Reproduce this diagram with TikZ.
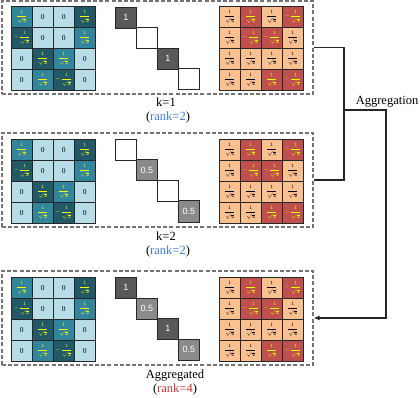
\documentclass[tikz,border=0pt]{standalone}
\usepackage{amsmath}
\usepackage{fontspec}
\setmainfont{Liberation Serif}
\setsansfont{Liberation Sans}
\usetikzlibrary{arrows.meta}
\definecolor{lb}{HTML}{B7DEE8}
\definecolor{tm}{HTML}{31859C}
\definecolor{td}{HTML}{215968}
\definecolor{pc}{HTML}{FAC090}
\definecolor{rd}{HTML}{C0504D}
\definecolor{dg}{HTML}{595959}
\definecolor{mg}{HTML}{8A8A8A}
\definecolor{rkb}{HTML}{3B7DD8}
\definecolor{rkr}{HTML}{D0312D}
\definecolor{yl}{HTML}{FFFF00}
\newcommand\Lmatrix[3]{%
  \foreach \v [count=\i from 0] in {a,z,z,b,c,z,z,a,z,b,a,z,z,a,c,z}{
    \pgfmathtruncatemacro\rr{\i/4}
    \pgfmathtruncatemacro\cc{mod(\i,4)}
    \node (#1-\rr\cc) at ({#2+21*\cc},{#3+21*\rr}) [L\v];
  }}
\newcommand\Rmatrix[3]{%
  \foreach \v [count=\i from 0] in {p,r,p,n,p,n,n,p,p,p,p,p,p,p,r,n}{
    \pgfmathtruncatemacro\rr{\i/4}
    \pgfmathtruncatemacro\cc{mod(\i,4)}
    \node (#1-\rr\cc) at ({#2+21*\cc},{#3+21*\rr}) [R\v];
  }}
\newcommand\Dmatrix[4]{%
  \foreach \v [count=\i from 0] in {#4}{
    \node (#1-\i) at ({#2+21*\i},{#3+20.5*\i}) [D\v];
  }}
\begin{document}
\begin{tikzpicture}[x=1pt,y=-1pt,
  cell/.style={draw=black!85, line width=0.6pt, minimum size=21pt, inner sep=0pt,
    anchor=north west, font=\fontsize{5.5}{5.5}\selectfont},
  Lz/.style={cell, fill=lb, node contents={\fontsize{7.5}{7.5}\selectfont 0}},
  La/.style={cell, fill=tm, text=yl, node contents={$\dfrac{1}{\sqrt{2}}$}},
  Lb/.style={cell, fill=td, text=yl, node contents={$\dfrac{1}{\sqrt{2}}$}},
  Lc/.style={cell, fill=td, text=yl, node contents={$-\dfrac{1}{\sqrt{2}}$}},
  Rp/.style={cell, fill=pc, text=black, node contents={$\dfrac{1}{\sqrt{4}}$}},
  Rr/.style={cell, fill=rd, text=yl, node contents={$\dfrac{1}{\sqrt{4}}$}},
  Rn/.style={cell, fill=rd, text=yl, node contents={$-\dfrac{1}{\sqrt{4}}$}},
  dcell/.style={draw=black!85, line width=0.6pt, minimum size=21pt, inner sep=0pt,
    anchor=north west, font=\sffamily\fontsize{9}{9}\selectfont, text=white},
  DA/.style={dcell, fill=dg, node contents={1}},
  DG/.style={dcell, fill=mg, node contents={0.5}},
  DW/.style={dcell, fill=white, node contents={}},
  panel/.style={draw=black!55, dashed, dash pattern=on 4pt off 2.2pt, line width=1.1pt,
    inner sep=0pt, minimum width=311pt},
  lab/.style={font=\fontsize{12.5}{13}\selectfont, inner sep=0pt, anchor=base},
  conn/.style={draw=black!85, line width=1.2pt}
]
\useasboundingbox (0,0) rectangle (420,398);
\node[panel, minimum height=93pt] (P1) at (157.5,47.5) {};
\node[panel, minimum height=94pt] (P2) at (157.5,180) {};
\node[panel, minimum height=94pt] (P3) at (157.5,318) {};

\Lmatrix{LA}{11}{6}
\Dmatrix{DA}{115}{7}{A,W,A,W}
\Rmatrix{RA}{219}{6}

\Lmatrix{LB}{11}{139}
\Dmatrix{DB}{115}{139}{W,G,W,G}
\Rmatrix{RB}{219}{139}

\Lmatrix{LC}{11}{277}
\Dmatrix{DC}{115}{277}{A,G,A,G}
\Rmatrix{RC}{219}{277}

\node[lab] (k1) at (166,107) {k=1};
\node[lab] (r1) at (168,121) {(\textcolor{rkb}{rank=2})};
\node[lab] (k2) at (166,240) {k=2};
\node[lab] (r2) at (168,254) {(\textcolor{rkb}{rank=2})};
\node[lab] (k3) at (175,378) {Aggregated};
\node[lab] (r3) at (175,392) {(\textcolor{rkr}{rank=4})};

\coordinate (J) at (344,110);
\coordinate (K) at (386,110);
\draw[conn] (P1.east) -| (J) |- (P2.east);
\draw[conn, -{Latex[length=6pt,width=5pt]}] (J) -- (K) |- (P3.east);
\node[lab] (agg) at (387,104.5) {Aggregation};
\end{tikzpicture}
\end{document}
